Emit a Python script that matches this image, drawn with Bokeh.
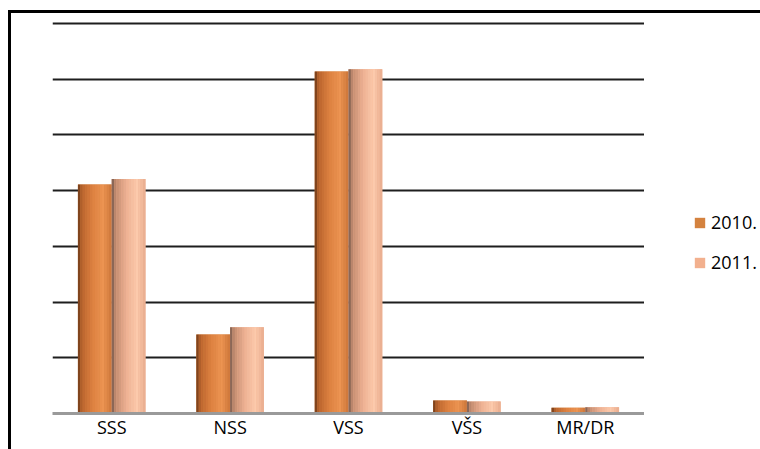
import numpy as np
from bokeh.plotting import figure
from bokeh.layouts import row
from bokeh.models import FactorRange, Legend, LegendItem, ColumnDataSource, SingleIntervalTicker
from bokeh.transform import dodge
from bokeh.embed import file_html
from bokeh.resources import INLINE

categories = ["SSS", "NSS", "VSS", "VŠS", "MR/DR"]
series_names = ["2010.", "2011."]
values_2010 = [2055, 710, 3070, 117, 51]
values_2011 = [2105, 775, 3090, 108, 56]

FONT = "Open Sans"
flat = {"v2010": "#D4823F", "v2011": "#F2B08E"}

p = figure(x_range=FactorRange(*categories, range_padding=0), y_range=(0, 3518),
           width=633, height=436, output_backend="svg", toolbar_location=None,
           min_border_left=41, min_border_right=0, min_border_top=8, min_border_bottom=36)
p.outline_line_color = None
p.background_fill_color = "white"
p.border_fill_color = "white"

src = ColumnDataSource(dict(cat=categories, v2010=values_2010, v2011=values_2011))

bar_w = 0.285
stops = {
    "v2010": ([0.0, 0.12, 0.45, 0.75, 1.0],
              [(105, 55, 22), (185, 100, 45), (222, 130, 65), (236, 148, 82), (205, 118, 58)]),
    "v2011": ([0.0, 0.12, 0.45, 0.75, 1.0],
              [(115, 88, 75), (195, 140, 112), (238, 178, 148), (252, 202, 172), (232, 172, 142)]),
}
offsets = {"v2010": -bar_w / 2, "v2011": bar_w / 2}

n_strips = 14
for key in ["v2010", "v2011"]:
    p.vbar(x=dodge("cat", offsets[key], range=p.x_range), top=key, width=bar_w,
           source=src, fill_color=flat[key], line_color=None)
    ts, cols = stops[key]
    cols = np.array(cols, dtype=float)
    sw = bar_w / n_strips
    for i in range(n_strips):
        t = (i + 0.5) / n_strips
        c = [int(round(np.interp(t, ts, cols[:, k]))) for k in range(3)]
        col = "#%02x%02x%02x" % tuple(c)
        off = offsets[key] - bar_w / 2 + (i + 0.5) * sw
        p.vbar(x=dodge("cat", off, range=p.x_range), top=key, width=sw * 1.04,
               source=src, fill_color=col, line_color=None)

# grid
p.xgrid.grid_line_color = None
p.ygrid.ticker = SingleIntervalTicker(interval=500)
p.ygrid.grid_line_color = "#1e1e1e"
p.ygrid.grid_line_width = 2
p.yaxis.visible = False

p.xaxis.axis_line_color = "#9a9a9a"
p.xaxis.axis_line_width = 3
p.xaxis.major_tick_line_color = None
p.xaxis.major_tick_out = 0
p.xaxis.major_tick_in = 0
p.xaxis.minor_tick_line_color = None
p.xaxis.minor_tick_out = 0
p.xaxis.major_label_text_font = FONT
p.xaxis.major_label_text_font_size = "18px"
p.xaxis.major_label_text_color = "black"
p.xaxis.major_label_standoff = 1

# legend panel (a separate, axis-less figure to the right of the plot area)
pl = figure(x_range=(0, 1), y_range=(0, 1), width=116, height=436,
            output_backend="svg", toolbar_location=None,
            x_axis_location=None, y_axis_location=None,
            min_border_left=0, min_border_right=0, min_border_top=0, min_border_bottom=0)
pl.grid.visible = False
pl.outline_line_color = None
pl.background_fill_color = "white"
pl.border_fill_color = "white"
legend_items = []
for key, name in zip(["v2010", "v2011"], series_names):
    # legend proxy: same series, lies outside this panel's (0, 1) ranges
    r = pl.vbar(x=key, top=key, width=1, source=src, fill_color=flat[key], line_color=None)
    legend_items.append(LegendItem(label=name, renderers=[r]))

legend = Legend(items=legend_items, location=(49, 139), orientation="vertical",
                glyph_width=13, glyph_height=13, label_standoff=5, spacing=16,
                label_height=20, padding=0, margin=0,
                border_line_color=None, background_fill_alpha=0,
                label_text_font=FONT, label_text_font_size="18px", label_text_color="black")
pl.add_layout(legend, "center")

layout = row(p, pl, spacing=0,
             styles={"margin-left": "8px", "margin-top": "10px",
                     "border-top": "3px solid black", "border-left": "3px solid black"})

open("out.html", "w").write(file_html(layout, INLINE))
